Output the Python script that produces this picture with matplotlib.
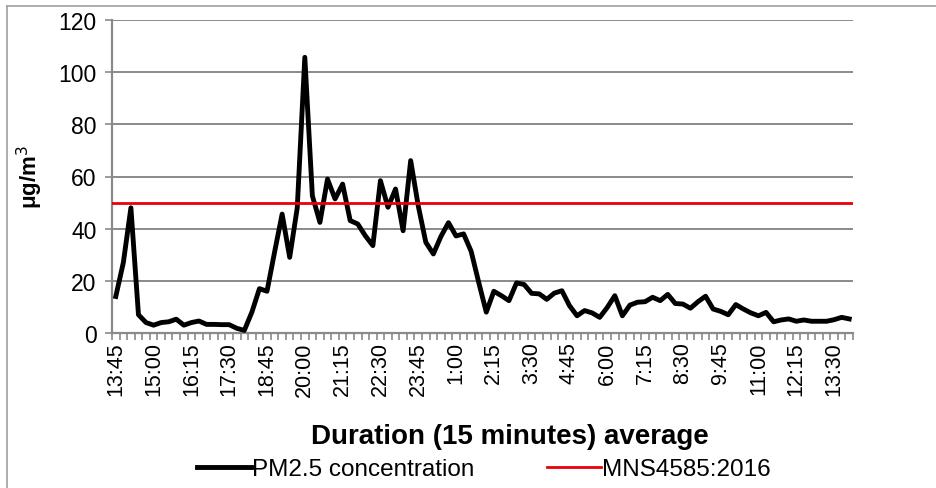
import numpy as np
import matplotlib
matplotlib.use("Agg")
import matplotlib.pyplot as plt
from matplotlib.lines import Line2D

plt.rcParams['font.family'] = ['Liberation Sans', 'DejaVu Sans']

# 15-minute averages of PM2.5, starting 13:45
pm25 = [14, 27, 48, 7, 4, 3, 4, 4.3, 5.3, 3, 4, 4.6, 3.3, 3.3,
        3.2, 3.2, 1.8, 1, 8, 17, 16, 31, 45.6, 29, 48, 105.7,
        52.6, 42.4, 59, 51.4, 57.1, 43.1, 41.8, 37.3, 33.5, 58.4,
        48.2, 55.2, 39.2, 66.1, 48.8, 34.8, 30.3, 37, 42.3, 37.2,
        38, 31.3, 19.4, 8, 16, 14.3, 12.4, 19.2, 18.6, 15.2, 15,
        12.9, 15.3, 16.2, 10.5, 6.6, 8.6, 7.7, 6, 9.8, 14.3, 6.6,
        10.7, 11.8, 12, 13.7, 12.4, 14.8, 11.3, 11.1, 9.5, 12,
        14.1, 9.2, 8.3, 7, 10.9, 9.2, 7.7, 6.6, 7.9, 4.3, 5, 5.4,
        4.5, 5, 4.5, 4.5, 4.5, 5.1, 6, 5.4]
limit = 50  # MNS4585:2016 24h standard

tick_labels = ['13:45', '15:00', '16:15', '17:30', '18:45', '20:00', '21:15',
               '22:30', '23:45', '1:00', '2:15', '3:30', '4:45', '6:00',
               '7:15', '8:30', '9:45', '11:00', '12:15', '13:30']

x = np.arange(len(pm25))

fig = plt.figure(figsize=(9.37, 4.89), dpi=100)
ax = fig.add_axes([112/937, 1 - 334/489, 741/937, 313/489])

grid_col = '#8a8a8a'
ax.plot(x, pm25, color='black', lw=3.5, solid_joinstyle='round', zorder=3)
ax.axhline(limit, color='#e8000b', lw=2.0, zorder=4)

ax.set_ylim(0, 120)
ax.set_yticks(np.arange(0, 121, 20))
ax.set_xlim(-0.5, len(pm25) - 0.5)
ax.set_xticks(x[::5])
ax.set_xticklabels(tick_labels, rotation=90)
ax.set_xticks(np.arange(-0.5, len(pm25), 1), minor=True)

ax.yaxis.grid(True, color=grid_col, lw=1.4)
ax.set_axisbelow(True)
for s in ['top', 'right']:
    ax.spines[s].set_visible(False)
for s in ['left', 'bottom']:
    ax.spines[s].set_color(grid_col)
    ax.spines[s].set_linewidth(1.6)

ax.tick_params(axis='y', length=5, width=1.2, color=grid_col, labelsize=16.5, pad=6)
ax.tick_params(axis='x', which='major', length=0, labelsize=15.5, pad=6)
ax.tick_params(axis='x', which='minor', length=5, width=1.2, color=grid_col)

ax.set_ylabel('μg/m$^3$', fontsize=16, fontweight='bold', labelpad=10)
fig.text(510/937, 1 - 437/489, 'Duration (15 minutes) average',
         ha='center', va='center', fontsize=20, fontweight='bold')

handles = [Line2D([], [], color='black', lw=3.5),
           Line2D([], [], color='#e8000b', lw=2.0)]
fig.legend(handles, ['PM2.5 concentration', 'MNS4585:2016'], loc='center',
           bbox_to_anchor=(484/937, 1 - 470/489), ncol=2, frameon=False,
           fontsize=17.5, handlelength=2.2, handletextpad=0.05, columnspacing=3.0)

# outer chart frame (top and left edges)
fig.add_artist(Line2D([7/937, 1], [1 - 7/489, 1 - 7/489], color='#a0a0a0', lw=1.2))
fig.add_artist(Line2D([7/937, 7/937], [0, 1 - 7/489], color='#a0a0a0', lw=1.2))

fig.savefig('out.png', dpi=100)
